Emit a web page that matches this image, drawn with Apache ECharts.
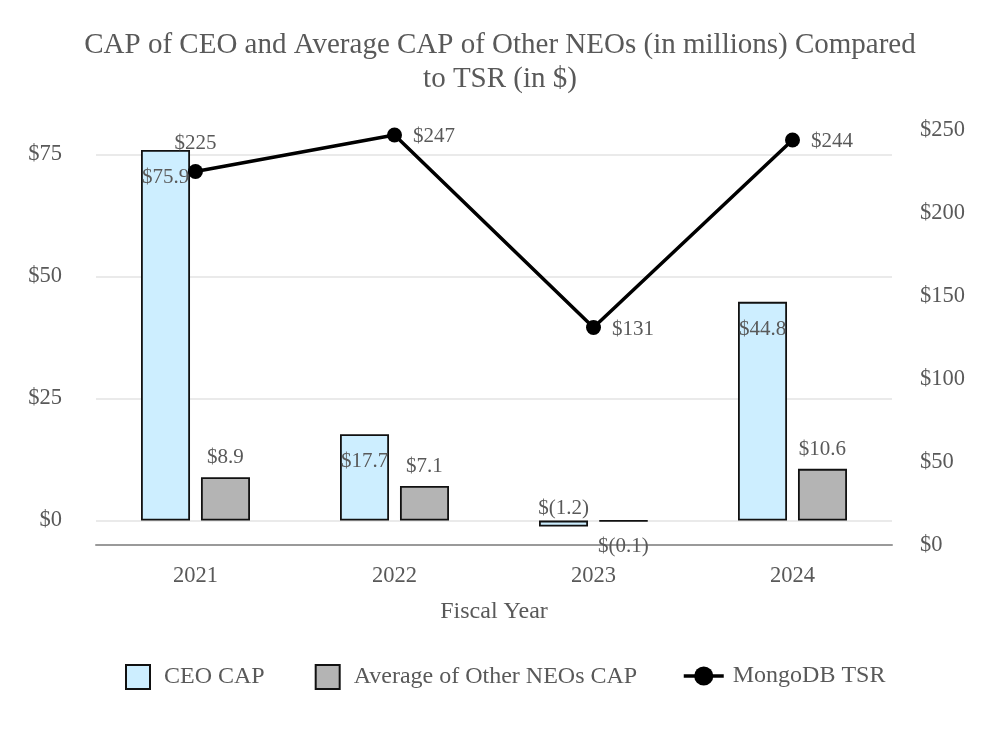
<!DOCTYPE html>
<html>
<head>
<meta charset="utf-8">
<script src="https://cdn.jsdelivr.net/npm/echarts@6/dist/echarts.min.js"></script>
<style>html,body{margin:0;padding:0;background:#fff;}#c{width:1000px;height:730px;}</style>
</head>
<body>
<div id="c"></div>
<script>
const years = ['2021', '2022', '2023', '2024'];
const ceoCap = [75.9, 17.7, -1.2, 44.8];
const neoCap = [8.9, 7.1, -0.1, 10.6];
const tsr = [225, 247, 131, 244];
const leftTicks = [0, 25, 50, 75];

const FONT = '"Liberation Serif", "Times New Roman", serif';
const TXT = '#595959';

function money(v) {
  return v < 0 ? '$(' + Math.abs(v).toFixed(1) + ')' : '$' + v.toFixed(1);
}

const ceoData = ceoCap.map(v => v < 0
  ? { value: v, label: { position: 'top', distance: 2 } }
  : { value: v });
const neoData = neoCap.map(v => v < 0
  ? { value: v, label: { position: 'bottom', distance: 14 } }
  : { value: v });
const tsrData = tsr.map((v, i) => i === 0
  ? { value: v, label: { position: 'top', distance: 12 } }
  : { value: v });

const chart = echarts.init(document.getElementById('c'));
chart.setOption({
  animation: false,
  backgroundColor: '#fff',
  textStyle: { fontFamily: FONT },
  title: {
    text: 'CAP of CEO and Average CAP of Other NEOs (in millions) Compared\nto TSR (in $)',
    left: 'center',
    top: 23,
    textStyle: { fontFamily: FONT, fontSize: 29, fontWeight: 'normal', color: TXT, lineHeight: 34 }
  },
  grid: { left: 96, right: 108, top: 130, bottom: 185 },
  legend: [
    {
      data: ['CEO CAP', 'Average of Other NEOs CAP'],
      left: 125, top: 664, padding: 0,
      icon: 'rect',
      itemWidth: 24, itemHeight: 24, itemGap: 50,
      textStyle: { fontFamily: FONT, fontSize: 24, color: TXT, padding: [0, 0, 0, 9] }
    },
    {
      data: ['MongoDB TSR'],
      left: 682, top: 664, padding: 0,
      itemWidth: 40, itemHeight: 24,
      lineStyle: { width: 3.5, color: '#000' },
      textStyle: { fontFamily: FONT, fontSize: 24, color: TXT, padding: [0, 0, 0, 4] }
    }
  ],
  xAxis: {
    type: 'category',
    data: years,
    name: 'Fiscal Year',
    nameLocation: 'middle',
    nameGap: 55,
    nameTextStyle: { fontFamily: FONT, fontSize: 24, color: TXT },
    axisLine: { onZero: false, lineStyle: { color: '#9a9a9a', width: 2 } },
    axisTick: { show: false },
    axisLabel: { fontFamily: FONT, fontSize: 22.5, color: TXT, margin: 20 }
  },
  yAxis: [
    {
      type: 'value',
      min: -5, max: 80, interval: 5,
      axisLine: { show: false },
      axisTick: { show: false, customValues: leftTicks },
      axisLabel: { customValues: leftTicks, fontFamily: FONT, fontSize: 22.5, color: TXT, margin: 34, formatter: v => '$' + v },
      splitLine: { show: true, lineStyle: { color: '#e3e3e3', width: 1.5 } }
    },
    {
      type: 'value',
      min: 0, max: 250, interval: 50,
      position: 'right',
      axisLine: { show: false },
      axisTick: { show: false },
      axisLabel: { fontFamily: FONT, fontSize: 22.5, color: TXT, margin: 28, formatter: v => '$' + v },
      splitLine: { show: false }
    }
  ],
  series: [
    {
      name: 'CEO CAP',
      type: 'bar',
      data: ceoData,
      barWidth: 49,
      barGap: '22.4%',
      itemStyle: { color: '#cdeeff', borderColor: '#111', borderWidth: 1.8 },
      label: { show: true, position: 'insideTop', distance: 17, fontFamily: FONT, fontSize: 21, color: TXT, formatter: p => money(p.value) }
    },
    {
      name: 'Average of Other NEOs CAP',
      type: 'bar',
      data: neoData,
      barWidth: 49,
      barGap: '22.4%',
      itemStyle: { color: '#b4b4b4', borderColor: '#111', borderWidth: 1.8 },
      label: { show: true, position: 'top', distance: 9, fontFamily: FONT, fontSize: 21, color: TXT, formatter: p => money(p.value) }
    },
    {
      name: 'MongoDB TSR',
      type: 'line',
      yAxisIndex: 1,
      data: tsrData,
      z: 5,
      symbol: 'circle',
      symbolSize: 15,
      lineStyle: { color: '#000', width: 3.5 },
      itemStyle: { color: '#000' },
      label: { show: true, position: 'right', distance: 11, offset: [0, 2], fontFamily: FONT, fontSize: 21, color: TXT, formatter: p => '$' + p.value }
    }
  ]
});
</script>
</body>
</html>
